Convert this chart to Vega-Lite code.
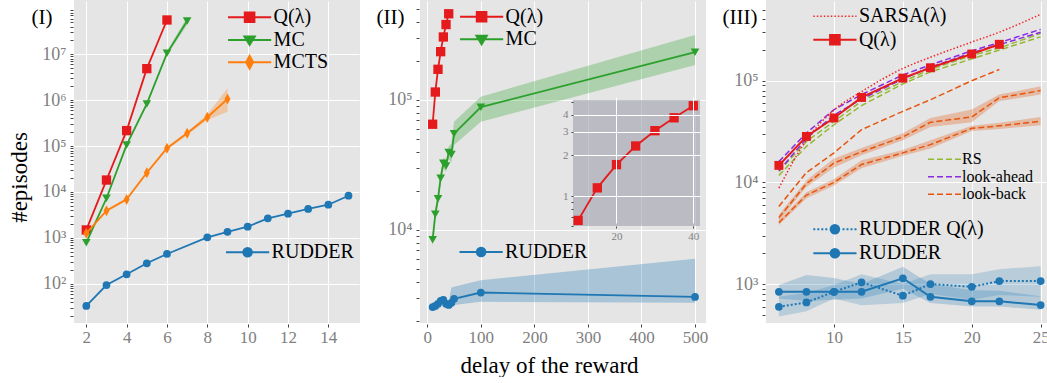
{
  "$schema": "https://vega.github.io/schema/vega-lite/v6.json",
  "padding": {"left": 8, "top": 0, "right": 0, "bottom": 0},
  "bounds": "flush",
  "spacing": 60,
  "config": {
    "font": "Liberation Serif",
    "view": {"fill": "#e5e5e5", "stroke": null},
    "axis": {"domain": false, "grid": true, "gridColor": "white", "gridWidth": 1, "tickColor": "#444", "tickSize": 3, "offset": 1, "labelColor": "#808080", "labelFont": "Liberation Serif", "labelFontSize": 17, "labelPadding": 2, "labelOverlap": false, "labelFlush": false, "titleFont": "Liberation Serif", "titleFontSize": 23, "titleFontWeight": "normal", "titleColor": "black"},
    "legend": {"orient": "none", "labelFont": "Liberation Serif", "labelFontSize": 20, "labelColor": "black", "padding": 0, "labelOffset": 14, "symbolStrokeWidth": 2, "symbolSize": 256, "symbolOpacity": 1}
  },
  "datasets": {
    "p1": [
      {"m": "Q(λ)", "x": 2, "y": 1490}, {"m": "Q(λ)", "x": 3, "y": 18200}, {"m": "Q(λ)", "x": 4, "y": 217000}, {"m": "Q(λ)", "x": 5, "y": 4860000}, {"m": "Q(λ)", "x": 6, "y": 55800000},
      {"m": "MC", "x": 2, "y": 785, "lo": 740, "hi": 830}, {"m": "MC", "x": 3, "y": 7300, "lo": 6900, "hi": 7700}, {"m": "MC", "x": 4, "y": 106000, "lo": 100000, "hi": 113000}, {"m": "MC", "x": 5, "y": 830000, "lo": 770000, "hi": 900000}, {"m": "MC", "x": 6, "y": 10500000, "lo": 9500000, "hi": 11800000}, {"m": "MC", "x": 7, "y": 53000000, "lo": 44000000, "hi": 64000000},
      {"m": "MCTS", "x": 2, "y": 1260, "lo": 1180, "hi": 1340}, {"m": "MCTS", "x": 3, "y": 3900, "lo": 3650, "hi": 4150}, {"m": "MCTS", "x": 4, "y": 6900, "lo": 6450, "hi": 7400}, {"m": "MCTS", "x": 5, "y": 26300, "lo": 24500, "hi": 28200}, {"m": "MCTS", "x": 6, "y": 89600, "lo": 83000, "hi": 97000}, {"m": "MCTS", "x": 7, "y": 190000, "lo": 175000, "hi": 206000}, {"m": "MCTS", "x": 8, "y": 424000, "lo": 370000, "hi": 490000}, {"m": "MCTS", "x": 9, "y": 1060000, "lo": 560000, "hi": 1820000},
      {"m": "RUDDER", "x": 2, "y": 33}, {"m": "RUDDER", "x": 3, "y": 94}, {"m": "RUDDER", "x": 4, "y": 161}, {"m": "RUDDER", "x": 5, "y": 280}, {"m": "RUDDER", "x": 6, "y": 446}, {"m": "RUDDER", "x": 8, "y": 1030}, {"m": "RUDDER", "x": 9, "y": 1360}, {"m": "RUDDER", "x": 10, "y": 1750}, {"m": "RUDDER", "x": 11, "y": 2670}, {"m": "RUDDER", "x": 12, "y": 3370}, {"m": "RUDDER", "x": 13, "y": 4260}, {"m": "RUDDER", "x": 14, "y": 5280}, {"m": "RUDDER", "x": 15, "y": 8300}
    ],
    "p2": [
      {"m": "Q(λ)", "x": 10, "y": 65000}, {"m": "Q(λ)", "x": 15, "y": 115000}, {"m": "Q(λ)", "x": 20, "y": 172000}, {"m": "Q(λ)", "x": 25, "y": 235000}, {"m": "Q(λ)", "x": 30, "y": 305000}, {"m": "Q(λ)", "x": 35, "y": 380000}, {"m": "Q(λ)", "x": 40, "y": 460000},
      {"m": "MC", "x": 10, "y": 8400, "lo": 7400, "hi": 9500}, {"m": "MC", "x": 15, "y": 13200, "lo": 12000, "hi": 14500}, {"m": "MC", "x": 20, "y": 17400, "lo": 15800, "hi": 19200}, {"m": "MC", "x": 25, "y": 25000, "lo": 22500, "hi": 27800}, {"m": "MC", "x": 30, "y": 32600, "lo": 29500, "hi": 36000}, {"m": "MC", "x": 35, "y": 31000, "lo": 28000, "hi": 34500}, {"m": "MC", "x": 40, "y": 39400, "lo": 35000, "hi": 44000}, {"m": "MC", "x": 45, "y": 38000, "lo": 33000, "hi": 46000}, {"m": "MC", "x": 50, "y": 55000, "lo": 45000, "hi": 68000}, {"m": "MC", "x": 100, "y": 88000, "lo": 68000, "hi": 106000}, {"m": "MC", "x": 500, "y": 233000, "lo": 186000, "hi": 316000},
      {"m": "RUDDER", "x": 10, "y": 2550, "lo": 2450, "hi": 2650}, {"m": "RUDDER", "x": 15, "y": 2600, "lo": 2480, "hi": 2720}, {"m": "RUDDER", "x": 20, "y": 2700, "lo": 2560, "hi": 2850}, {"m": "RUDDER", "x": 25, "y": 2850, "lo": 2680, "hi": 3050}, {"m": "RUDDER", "x": 30, "y": 2900, "lo": 2720, "hi": 3120}, {"m": "RUDDER", "x": 35, "y": 2700, "lo": 2560, "hi": 2900}, {"m": "RUDDER", "x": 40, "y": 2650, "lo": 2500, "hi": 2820}, {"m": "RUDDER", "x": 45, "y": 2750, "lo": 2550, "hi": 3600}, {"m": "RUDDER", "x": 50, "y": 2950, "lo": 2650, "hi": 3650}, {"m": "RUDDER", "x": 100, "y": 3300, "lo": 2800, "hi": 4100}, {"m": "RUDDER", "x": 500, "y": 3050, "lo": 2750, "hi": 6000}
    ],
    "p2i": [
      {"x": 10, "y": 0.66}, {"x": 15, "y": 1.15}, {"x": 20, "y": 1.71}, {"x": 25, "y": 2.35}, {"x": 30, "y": 3.05}, {"x": 35, "y": 3.8}, {"x": 40, "y": 4.67}
    ],
    "p3": [
      {"m": "SARSA(λ)", "g": "s", "x": 6, "y": 8800}, {"m": "SARSA(λ)", "g": "s", "x": 8, "y": 26000}, {"m": "SARSA(λ)", "g": "s", "x": 10, "y": 51500}, {"m": "SARSA(λ)", "g": "s", "x": 12, "y": 78000}, {"m": "SARSA(λ)", "g": "s", "x": 15, "y": 132000}, {"m": "SARSA(λ)", "g": "s", "x": 17, "y": 170000}, {"m": "SARSA(λ)", "g": "s", "x": 20, "y": 240000}, {"m": "SARSA(λ)", "g": "s", "x": 22, "y": 300000}, {"m": "SARSA(λ)", "g": "s", "x": 25, "y": 450000},
      {"m": "Q(λ)", "g": "q", "x": 6, "y": 14700}, {"m": "Q(λ)", "g": "q", "x": 8, "y": 28300}, {"m": "Q(λ)", "g": "q", "x": 10, "y": 43000}, {"m": "Q(λ)", "g": "q", "x": 12, "y": 68500}, {"m": "Q(λ)", "g": "q", "x": 15, "y": 106000}, {"m": "Q(λ)", "g": "q", "x": 17, "y": 134000}, {"m": "Q(λ)", "g": "q", "x": 20, "y": 183000}, {"m": "Q(λ)", "g": "q", "x": 22, "y": 228000},
      {"m": "RS", "g": "a", "x": 6, "y": 12800}, {"m": "RS", "g": "a", "x": 8, "y": 25300}, {"m": "RS", "g": "a", "x": 10, "y": 39700}, {"m": "RS", "g": "a", "x": 12, "y": 63000}, {"m": "RS", "g": "a", "x": 15, "y": 98000}, {"m": "RS", "g": "a", "x": 17, "y": 129000}, {"m": "RS", "g": "a", "x": 20, "y": 177000}, {"m": "RS", "g": "a", "x": 22, "y": 210000}, {"m": "RS", "g": "a", "x": 25, "y": 292000},
      {"m": "RS", "g": "b", "x": 6, "y": 11700}, {"m": "RS", "g": "b", "x": 8, "y": 22600}, {"m": "RS", "g": "b", "x": 10, "y": 36900}, {"m": "RS", "g": "b", "x": 12, "y": 57000}, {"m": "RS", "g": "b", "x": 15, "y": 93000}, {"m": "RS", "g": "b", "x": 17, "y": 122000}, {"m": "RS", "g": "b", "x": 20, "y": 164000}, {"m": "RS", "g": "b", "x": 22, "y": 200000}, {"m": "RS", "g": "b", "x": 25, "y": 270000},
      {"m": "look-ahead", "g": "a", "x": 6, "y": 16000}, {"m": "look-ahead", "g": "a", "x": 8, "y": 30600}, {"m": "look-ahead", "g": "a", "x": 10, "y": 52000}, {"m": "look-ahead", "g": "a", "x": 12, "y": 73000}, {"m": "look-ahead", "g": "a", "x": 15, "y": 114000}, {"m": "look-ahead", "g": "a", "x": 17, "y": 143000}, {"m": "look-ahead", "g": "a", "x": 20, "y": 197000}, {"m": "look-ahead", "g": "a", "x": 22, "y": 237000}, {"m": "look-ahead", "g": "a", "x": 25, "y": 320000},
      {"m": "look-ahead", "g": "b", "x": 6, "y": 13000}, {"m": "look-ahead", "g": "b", "x": 8, "y": 27000}, {"m": "look-ahead", "g": "b", "x": 10, "y": 46000}, {"m": "look-ahead", "g": "b", "x": 12, "y": 66000}, {"m": "look-ahead", "g": "b", "x": 15, "y": 104000}, {"m": "look-ahead", "g": "b", "x": 17, "y": 136000}, {"m": "look-ahead", "g": "b", "x": 20, "y": 188000}, {"m": "look-ahead", "g": "b", "x": 22, "y": 226000}, {"m": "look-ahead", "g": "b", "x": 25, "y": 300000},
      {"m": "look-back", "g": "a", "x": 6, "y": 5800}, {"m": "look-back", "g": "a", "x": 8, "y": 12500}, {"m": "look-back", "g": "a", "x": 10, "y": 19500}, {"m": "look-back", "g": "a", "x": 12, "y": 33000}, {"m": "look-back", "g": "a", "x": 15, "y": 50000}, {"m": "look-back", "g": "a", "x": 17, "y": 65000}, {"m": "look-back", "g": "a", "x": 20, "y": 100000}, {"m": "look-back", "g": "a", "x": 22, "y": 129000},
      {"m": "look-back", "g": "b", "x": 6, "y": 4500, "lo": 4200, "hi": 4800}, {"m": "look-back", "g": "b", "x": 8, "y": 9700, "lo": 9000, "hi": 10500}, {"m": "look-back", "g": "b", "x": 10, "y": 15500, "lo": 14000, "hi": 17200}, {"m": "look-back", "g": "b", "x": 12, "y": 20000, "lo": 18500, "hi": 21800}, {"m": "look-back", "g": "b", "x": 15, "y": 28000, "lo": 26000, "hi": 30500}, {"m": "look-back", "g": "b", "x": 17, "y": 39000, "lo": 35000, "hi": 43000}, {"m": "look-back", "g": "b", "x": 20, "y": 44000, "lo": 39000, "hi": 52000}, {"m": "look-back", "g": "b", "x": 22, "y": 68000, "lo": 63000, "hi": 73000}, {"m": "look-back", "g": "b", "x": 25, "y": 80000, "lo": 73000, "hi": 88000},
      {"m": "look-back", "g": "c", "x": 6, "y": 4000, "lo": 3800, "hi": 4250}, {"m": "look-back", "g": "c", "x": 8, "y": 7500, "lo": 7000, "hi": 8000}, {"m": "look-back", "g": "c", "x": 10, "y": 10000, "lo": 9300, "hi": 10800}, {"m": "look-back", "g": "c", "x": 12, "y": 15000, "lo": 13800, "hi": 16500}, {"m": "look-back", "g": "c", "x": 15, "y": 19500, "lo": 18300, "hi": 20800}, {"m": "look-back", "g": "c", "x": 17, "y": 23500, "lo": 21500, "hi": 26000}, {"m": "look-back", "g": "c", "x": 20, "y": 34000, "lo": 32000, "hi": 36000}, {"m": "look-back", "g": "c", "x": 22, "y": 36000, "lo": 33500, "hi": 38500}, {"m": "look-back", "g": "c", "x": 25, "y": 40000, "lo": 36500, "hi": 44000},
      {"m": "RUDDER Q(λ)", "g": "rq", "x": 6, "y": 598, "lo": 480, "hi": 750}, {"m": "RUDDER Q(λ)", "g": "rq", "x": 8, "y": 660, "lo": 540, "hi": 820}, {"m": "RUDDER Q(λ)", "g": "rq", "x": 10, "y": 840, "lo": 720, "hi": 980}, {"m": "RUDDER Q(λ)", "g": "rq", "x": 12, "y": 1040, "lo": 620, "hi": 1250}, {"m": "RUDDER Q(λ)", "g": "rq", "x": 15, "y": 768, "lo": 650, "hi": 1000}, {"m": "RUDDER Q(λ)", "g": "rq", "x": 17, "y": 1000, "lo": 800, "hi": 1250}, {"m": "RUDDER Q(λ)", "g": "rq", "x": 20, "y": 940, "lo": 700, "hi": 1250}, {"m": "RUDDER Q(λ)", "g": "rq", "x": 22, "y": 1070, "lo": 780, "hi": 1400}, {"m": "RUDDER Q(λ)", "g": "rq", "x": 25, "y": 1070, "lo": 750, "hi": 1500},
      {"m": "RUDDER", "g": "r", "x": 6, "y": 840, "lo": 720, "hi": 980}, {"m": "RUDDER", "g": "r", "x": 8, "y": 840, "lo": 680, "hi": 1230}, {"m": "RUDDER", "g": "r", "x": 10, "y": 840, "lo": 700, "hi": 1150}, {"m": "RUDDER", "g": "r", "x": 12, "y": 840, "lo": 720, "hi": 1000}, {"m": "RUDDER", "g": "r", "x": 15, "y": 1140, "lo": 900, "hi": 1480}, {"m": "RUDDER", "g": "r", "x": 17, "y": 750, "lo": 650, "hi": 1000}, {"m": "RUDDER", "g": "r", "x": 20, "y": 676, "lo": 600, "hi": 870}, {"m": "RUDDER", "g": "r", "x": 22, "y": 676, "lo": 600, "hi": 860}, {"m": "RUDDER", "g": "r", "x": 25, "y": 622, "lo": 560, "hi": 760}
    ]
  },
  "hconcat": [
    {
      "width": 286, "height": 323,
      "data": {"name": "p1"},
      "encoding": {
        "x": {"field": "x", "type": "quantitative", "scale": {"domain": [1.39, 15.57], "nice": false, "zero": false}, "axis": {"values": [2, 4, 6, 8, 10, 12, 14], "title": "(I)", "titleX": -43, "titleY": -301, "titleAlign": "left", "titleBaseline": "alphabetic", "titleAngle": 0, "titleFontSize": 21}},
        "y": {"field": "y", "type": "quantitative", "scale": {"type": "log", "domain": [14, 152000000], "nice": false},
          "axis": {"values": [20, 30, 40, 50, 60, 70, 80, 90, 100, 200, 300, 400, 500, 600, 700, 800, 900, 1000, 2000, 3000, 4000, 5000, 6000, 7000, 8000, 9000, 10000, 20000, 30000, 40000, 50000, 60000, 70000, 80000, 90000, 100000, 200000, 300000, 400000, 500000, 600000, 700000, 800000, 900000, 1000000, 2000000, 3000000, 4000000, 5000000, 6000000, 7000000, 8000000, 9000000, 10000000, 20000000, 30000000, 40000000, 50000000, 60000000, 70000000, 80000000, 90000000],
            "labelExpr": "abs(log(datum.value)/LN10 - round(log(datum.value)/LN10)) < 0.001 ? '10' + substring('⁰¹²³⁴⁵⁶⁷⁸⁹', round(log(datum.value)/LN10), round(log(datum.value)/LN10) + 1) : ''",
            "gridOpacity": {"condition": {"test": "abs(log(datum.value)/LN10 - round(log(datum.value)/LN10)) < 0.001", "value": 1}, "value": 0},
            "labelFontSize": 18, "labelPadding": 4, "title": "#episodes", "titleY": 177, "titlePadding": 10}}
      },
      "resolve": {"scale": {"color": "independent"}},
      "layer": [
        {"transform": [{"filter": "datum.m == 'Q(λ)'"}],
          "encoding": {"color": {"field": "m", "type": "nominal", "scale": {"domain": ["Q(λ)"], "range": ["#e41a1c"]}, "legend": {"title": null, "legendX": 165.6, "legendY": 7.3, "symbolType": "M-2.7,0H2.7M-0.6,-0.6H0.6V0.6H-0.6Z", "symbolFillColor": "#e41a1c", "symbolStrokeColor": "#e41a1c"}}},
          "layer": [
            {"mark": {"type": "line", "strokeWidth": 1.8}},
            {"mark": {"type": "point", "shape": "square", "filled": true, "size": 87, "opacity": 1}}
          ]},
        {"transform": [{"filter": "datum.m == 'MC'"}],
          "encoding": {"color": {"field": "m", "type": "nominal", "scale": {"domain": ["MC"], "range": ["#2ca02c"]}, "legend": {"title": null, "legendX": 165.6, "legendY": 30, "symbolType": "M-2.7,0H2.7M-0.65,-0.44H0.65L0,0.62Z", "symbolFillColor": "#2ca02c", "symbolStrokeColor": "#2ca02c"}}},
          "layer": [
            {"mark": {"type": "area", "fillOpacity": 0.3}, "encoding": {"y": {"field": "lo", "type": "quantitative", "scale": {"type": "log", "domain": [14, 152000000], "nice": false},
              "axis": {"values": [20, 30, 40, 50, 60, 70, 80, 90, 100, 200, 300, 400, 500, 600, 700, 800, 900, 1000, 2000, 3000, 4000, 5000, 6000, 7000, 8000, 9000, 10000, 20000, 30000, 40000, 50000, 60000, 70000, 80000, 90000, 100000, 200000, 300000, 400000, 500000, 600000, 700000, 800000, 900000, 1000000, 2000000, 3000000, 4000000, 5000000, 6000000, 7000000, 8000000, 9000000, 10000000, 20000000, 30000000, 40000000, 50000000, 60000000, 70000000, 80000000, 90000000],
                "labelExpr": "abs(log(datum.value)/LN10 - round(log(datum.value)/LN10)) < 0.001 ? '10' + substring('⁰¹²³⁴⁵⁶⁷⁸⁹', round(log(datum.value)/LN10), round(log(datum.value)/LN10) + 1) : ''",
                "gridOpacity": {"condition": {"test": "abs(log(datum.value)/LN10 - round(log(datum.value)/LN10)) < 0.001", "value": 1}, "value": 0},
                "labelFontSize": 18, "labelPadding": 4, "title": "#episodes", "titleY": 177, "titlePadding": 10}}, "y2": {"field": "hi"}}},
            {"mark": {"type": "line", "strokeWidth": 1.8}},
            {"mark": {"type": "point", "shape": "triangle-down", "filled": true, "size": 75, "opacity": 1}}
          ]},
        {"transform": [{"filter": "datum.m == 'MCTS'"}],
          "encoding": {"color": {"field": "m", "type": "nominal", "scale": {"domain": ["MCTS"], "range": ["#ff7f0e"]}, "legend": {"title": null, "legendX": 165.6, "legendY": 52.3, "symbolType": "M-2.7,0H2.7M0,-0.81L0.44,0L0,0.81L-0.44,0Z", "symbolFillColor": "#ff7f0e", "symbolStrokeColor": "#ff7f0e"}}},
          "layer": [
            {"mark": {"type": "area", "fillOpacity": 0.3}, "encoding": {"y": {"field": "lo", "type": "quantitative", "scale": {"type": "log", "domain": [14, 152000000], "nice": false},
              "axis": {"values": [20, 30, 40, 50, 60, 70, 80, 90, 100, 200, 300, 400, 500, 600, 700, 800, 900, 1000, 2000, 3000, 4000, 5000, 6000, 7000, 8000, 9000, 10000, 20000, 30000, 40000, 50000, 60000, 70000, 80000, 90000, 100000, 200000, 300000, 400000, 500000, 600000, 700000, 800000, 900000, 1000000, 2000000, 3000000, 4000000, 5000000, 6000000, 7000000, 8000000, 9000000, 10000000, 20000000, 30000000, 40000000, 50000000, 60000000, 70000000, 80000000, 90000000],
                "labelExpr": "abs(log(datum.value)/LN10 - round(log(datum.value)/LN10)) < 0.001 ? '10' + substring('⁰¹²³⁴⁵⁶⁷⁸⁹', round(log(datum.value)/LN10), round(log(datum.value)/LN10) + 1) : ''",
                "gridOpacity": {"condition": {"test": "abs(log(datum.value)/LN10 - round(log(datum.value)/LN10)) < 0.001", "value": 1}, "value": 0},
                "labelFontSize": 18, "labelPadding": 4, "title": "#episodes", "titleY": 177, "titlePadding": 10}}, "y2": {"field": "hi"}}},
            {"mark": {"type": "line", "strokeWidth": 1.8}},
            {"mark": {"type": "point", "shape": "M0,-1L0.55,0L0,1L-0.55,0Z", "filled": true, "size": 121, "opacity": 1}}
          ]},
        {"transform": [{"filter": "datum.m == 'RUDDER'"}],
          "encoding": {"color": {"field": "m", "type": "nominal", "scale": {"domain": ["RUDDER"], "range": ["#1f77b4"]}, "legend": {"title": null, "legendX": 163.6, "legendY": 242.3, "symbolType": "M-2.7,0H2.7M-0.54,0A0.54,0.54,0,1,0,0.54,0A0.54,0.54,0,1,0,-0.54,0Z", "symbolFillColor": "#1f77b4", "symbolStrokeColor": "#1f77b4"}}},
          "layer": [
            {"mark": {"type": "line", "strokeWidth": 1.8}},
            {"mark": {"type": "point", "shape": "circle", "filled": true, "size": 60, "opacity": 1}}
          ]}
      ]
    },
    {
      "width": 286, "height": 323,
      "resolve": {"scale": {"x": "independent", "y": "independent"}, "axis": {"x": "independent", "y": "independent"}},
      "layer": [
        {
          "data": {"name": "p2"},
          "encoding": {
            "x": {"field": "x", "type": "quantitative", "scale": {"domain": [-13.6, 520.5], "nice": false, "zero": false}, "axis": {"values": [0, 100, 200, 300, 400, 500], "title": "delay of the reward", "titleX": 129, "titlePadding": 9, "orient": "bottom"}},
            "y": {"field": "y", "type": "quantitative", "scale": {"type": "log", "domain": [1923, 587000], "nice": false},
              "axis": {"values": [2000, 3000, 4000, 5000, 6000, 7000, 8000, 9000, 10000, 20000, 30000, 40000, 50000, 60000, 70000, 80000, 90000, 100000, 200000, 300000, 400000, 500000],
                "labelExpr": "abs(log(datum.value)/LN10 - round(log(datum.value)/LN10)) < 0.001 ? '10' + substring('⁰¹²³⁴⁵⁶⁷⁸⁹', round(log(datum.value)/LN10), round(log(datum.value)/LN10) + 1) : ''",
                "gridOpacity": {"condition": {"test": "abs(log(datum.value)/LN10 - round(log(datum.value)/LN10)) < 0.001", "value": 1}, "value": 0},
                "labelFontSize": 18, "labelPadding": 4, "orient": "left", "title": "(II)", "titleX": -43, "titleY": 23, "titleAlign": "left", "titleBaseline": "alphabetic", "titleAngle": 0, "titleFontSize": 21}}
          },
          "resolve": {"scale": {"color": "independent"}},
          "layer": [
            {"transform": [{"filter": "datum.m == 'Q(λ)'"}],
              "encoding": {"color": {"field": "m", "type": "nominal", "scale": {"domain": ["Q(λ)"], "range": ["#e41a1c"]}, "legend": {"title": null, "legendX": 51.6, "legendY": 6.7, "symbolType": "M-2.7,0H2.7M-0.6,-0.6H0.6V0.6H-0.6Z", "symbolFillColor": "#e41a1c", "symbolStrokeColor": "#e41a1c"}}},
              "layer": [
                {"mark": {"type": "line", "strokeWidth": 1.8}},
                {"mark": {"type": "point", "shape": "square", "filled": true, "size": 87, "opacity": 1}}
              ]},
            {"transform": [{"filter": "datum.m == 'MC'"}],
              "encoding": {"color": {"field": "m", "type": "nominal", "scale": {"domain": ["MC"], "range": ["#2ca02c"]}, "legend": {"title": null, "legendX": 51.6, "legendY": 29.3, "symbolType": "M-2.7,0H2.7M-0.65,-0.44H0.65L0,0.62Z", "symbolFillColor": "#2ca02c", "symbolStrokeColor": "#2ca02c"}}},
              "layer": [
                {"mark": {"type": "area", "fillOpacity": 0.3}, "encoding": {"y": {"field": "lo", "type": "quantitative", "scale": {"type": "log", "domain": [1923, 587000], "nice": false},
                  "axis": {"values": [2000, 3000, 4000, 5000, 6000, 7000, 8000, 9000, 10000, 20000, 30000, 40000, 50000, 60000, 70000, 80000, 90000, 100000, 200000, 300000, 400000, 500000],
                    "labelExpr": "abs(log(datum.value)/LN10 - round(log(datum.value)/LN10)) < 0.001 ? '10' + substring('⁰¹²³⁴⁵⁶⁷⁸⁹', round(log(datum.value)/LN10), round(log(datum.value)/LN10) + 1) : ''",
                    "gridOpacity": {"condition": {"test": "abs(log(datum.value)/LN10 - round(log(datum.value)/LN10)) < 0.001", "value": 1}, "value": 0},
                    "labelFontSize": 18, "labelPadding": 4, "orient": "left", "title": "(II)", "titleX": -43, "titleY": 23, "titleAlign": "left", "titleBaseline": "alphabetic", "titleAngle": 0, "titleFontSize": 21}}, "y2": {"field": "hi"}}},
                {"mark": {"type": "line", "strokeWidth": 1.8}},
                {"mark": {"type": "point", "shape": "triangle-down", "filled": true, "size": 75, "opacity": 1}}
              ]},
            {"transform": [{"filter": "datum.m == 'RUDDER'"}],
              "encoding": {"color": {"field": "m", "type": "nominal", "scale": {"domain": ["RUDDER"], "range": ["#1f77b4"]}, "legend": {"title": null, "legendX": 51.1, "legendY": 242, "symbolType": "M-2.7,0H2.7M-0.54,0A0.54,0.54,0,1,0,0.54,0A0.54,0.54,0,1,0,-0.54,0Z", "symbolFillColor": "#1f77b4", "symbolStrokeColor": "#1f77b4"}}},
              "layer": [
                {"mark": {"type": "area", "fillOpacity": 0.3}, "encoding": {"y": {"field": "lo", "type": "quantitative", "scale": {"type": "log", "domain": [1923, 587000], "nice": false},
                  "axis": {"values": [2000, 3000, 4000, 5000, 6000, 7000, 8000, 9000, 10000, 20000, 30000, 40000, 50000, 60000, 70000, 80000, 90000, 100000, 200000, 300000, 400000, 500000],
                    "labelExpr": "abs(log(datum.value)/LN10 - round(log(datum.value)/LN10)) < 0.001 ? '10' + substring('⁰¹²³⁴⁵⁶⁷⁸⁹', round(log(datum.value)/LN10), round(log(datum.value)/LN10) + 1) : ''",
                    "gridOpacity": {"condition": {"test": "abs(log(datum.value)/LN10 - round(log(datum.value)/LN10)) < 0.001", "value": 1}, "value": 0},
                    "labelFontSize": 18, "labelPadding": 4, "orient": "left", "title": "(II)", "titleX": -43, "titleY": 23, "titleAlign": "left", "titleBaseline": "alphabetic", "titleAngle": 0, "titleFontSize": 21}}, "y2": {"field": "hi"}}},
                {"mark": {"type": "line", "strokeWidth": 1.8}},
                {"mark": {"type": "point", "shape": "circle", "filled": true, "size": 60, "opacity": 1}}
              ]}
          ]
        },
        {
          "layer": [
            {"data": {"values": [{}]},
              "mark": {"type": "rect", "fill": "#9c9fac", "opacity": 0.6},
              "encoding": {
                "x": {"datum": 8.67, "type": "quantitative", "scale": {"domain": [8.67, 41.75], "range": [153, 280], "nice": false, "zero": false},
                  "axis": {"orient": "bottom", "offset": -97, "values": [20, 40], "grid": true, "labelFontSize": 11, "tickSize": 2, "labelPadding": 2, "title": null, "zindex": 1}},
                "x2": {"datum": 41.75},
                "y": {"datum": 0.6, "type": "quantitative", "scale": {"type": "log", "domain": [0.6, 5.15], "range": [226, 100], "nice": false},
                  "axis": {"orient": "left", "offset": -153, "values": [0.6, 0.7, 0.8, 0.9, 1, 2, 3, 4, 5], "grid": true, "labelExpr": "(datum.value == 1 || datum.value == 2 || datum.value == 3 || datum.value == 4) ? datum.label : ''",
                    "gridOpacity": {"condition": {"test": "datum.value == 1 || datum.value == 2 || datum.value == 3 || datum.value == 4", "value": 1}, "value": 0},
                    "labelFontSize": 11, "tickSize": 2, "labelPadding": 3, "title": null, "zindex": 1}},
                "y2": {"datum": 5.15}
              }},
            {"data": {"name": "p2i"},
              "mark": {"type": "line", "color": "#e41a1c", "strokeWidth": 1.8},
              "encoding": {
                "x": {"field": "x", "type": "quantitative", "scale": {"domain": [8.67, 41.75], "range": [153, 280], "nice": false, "zero": false},
                  "axis": {"orient": "bottom", "offset": -97, "values": [20, 40], "grid": true, "labelFontSize": 11, "tickSize": 2, "labelPadding": 2, "title": null, "zindex": 1}},
                "y": {"field": "y", "type": "quantitative", "scale": {"type": "log", "domain": [0.6, 5.15], "range": [226, 100], "nice": false},
                  "axis": {"orient": "left", "offset": -153, "values": [0.6, 0.7, 0.8, 0.9, 1, 2, 3, 4, 5], "grid": true, "labelExpr": "(datum.value == 1 || datum.value == 2 || datum.value == 3 || datum.value == 4) ? datum.label : ''",
                    "gridOpacity": {"condition": {"test": "datum.value == 1 || datum.value == 2 || datum.value == 3 || datum.value == 4", "value": 1}, "value": 0},
                    "labelFontSize": 11, "tickSize": 2, "labelPadding": 3, "title": null, "zindex": 1}}
              }},
            {"data": {"name": "p2i"},
              "mark": {"type": "point", "shape": "square", "filled": true, "size": 87, "opacity": 1, "color": "#e41a1c"},
              "encoding": {
                "x": {"field": "x", "type": "quantitative", "scale": {"domain": [8.67, 41.75], "range": [153, 280], "nice": false, "zero": false},
                  "axis": {"orient": "bottom", "offset": -97, "values": [20, 40], "grid": true, "labelFontSize": 11, "tickSize": 2, "labelPadding": 2, "title": null, "zindex": 1}},
                "y": {"field": "y", "type": "quantitative", "scale": {"type": "log", "domain": [0.6, 5.15], "range": [226, 100], "nice": false},
                  "axis": {"orient": "left", "offset": -153, "values": [0.6, 0.7, 0.8, 0.9, 1, 2, 3, 4, 5], "grid": true, "labelExpr": "(datum.value == 1 || datum.value == 2 || datum.value == 3 || datum.value == 4) ? datum.label : ''",
                    "gridOpacity": {"condition": {"test": "datum.value == 1 || datum.value == 2 || datum.value == 3 || datum.value == 4", "value": 1}, "value": 0},
                    "labelFontSize": 11, "tickSize": 2, "labelPadding": 3, "title": null, "zindex": 1}}
              }}
          ]
        }
      ]
    },
    {
      "width": 281, "height": 323,
      "data": {"name": "p3"},
      "encoding": {
        "x": {"field": "x", "type": "quantitative", "scale": {"domain": [5.065, 25.46], "nice": false, "zero": false}, "axis": {"values": [10, 15, 20, 25], "title": null}},
        "y": {"field": "y", "type": "quantitative", "scale": {"type": "log", "domain": [414, 622000], "nice": false},
          "axis": {"values": [500, 600, 700, 800, 900, 1000, 2000, 3000, 4000, 5000, 6000, 7000, 8000, 9000, 10000, 20000, 30000, 40000, 50000, 60000, 70000, 80000, 90000, 100000, 200000, 300000, 400000, 500000],
            "labelExpr": "abs(log(datum.value)/LN10 - round(log(datum.value)/LN10)) < 0.001 ? '10' + substring('⁰¹²³⁴⁵⁶⁷⁸⁹', round(log(datum.value)/LN10), round(log(datum.value)/LN10) + 1) : ''",
            "gridOpacity": {"condition": {"test": "abs(log(datum.value)/LN10 - round(log(datum.value)/LN10)) < 0.001", "value": 1}, "value": 0},
            "labelFontSize": 18, "labelPadding": 4, "title": "(III)", "titleX": -43, "titleY": 23, "titleAlign": "left", "titleBaseline": "alphabetic", "titleAngle": 0, "titleFontSize": 21}}
      },
      "resolve": {"scale": {"color": "independent"}},
      "layer": [
        {"transform": [{"filter": "datum.m == 'look-back'"}],
          "encoding": {"color": {"field": "m", "type": "nominal", "scale": {"domain": ["look-back"], "range": ["#e6550d"]}, "legend": {"title": null, "legendX": 169.5, "legendY": 185.3, "symbolType": "M-2.06,0H2.06", "symbolStrokeWidth": 1.6, "symbolDash": [6, 3], "labelFontSize": 16, "labelOffset": 8.5, "symbolFillColor": "#e6550d", "symbolStrokeColor": "#e6550d"}}},
          "layer": [
            {"transform": [{"filter": "isValid(datum.lo)"}], "mark": {"type": "area", "fillOpacity": 0.3}, "encoding": {"detail": {"field": "g"}, "y": {"field": "lo", "type": "quantitative", "scale": {"type": "log", "domain": [414, 622000], "nice": false},
              "axis": {"values": [500, 600, 700, 800, 900, 1000, 2000, 3000, 4000, 5000, 6000, 7000, 8000, 9000, 10000, 20000, 30000, 40000, 50000, 60000, 70000, 80000, 90000, 100000, 200000, 300000, 400000, 500000],
                "labelExpr": "abs(log(datum.value)/LN10 - round(log(datum.value)/LN10)) < 0.001 ? '10' + substring('⁰¹²³⁴⁵⁶⁷⁸⁹', round(log(datum.value)/LN10), round(log(datum.value)/LN10) + 1) : ''",
                "gridOpacity": {"condition": {"test": "abs(log(datum.value)/LN10 - round(log(datum.value)/LN10)) < 0.001", "value": 1}, "value": 0},
                "labelFontSize": 18, "labelPadding": 4, "title": "(III)", "titleX": -43, "titleY": 23, "titleAlign": "left", "titleBaseline": "alphabetic", "titleAngle": 0, "titleFontSize": 21}}, "y2": {"field": "hi"}}},
            {"mark": {"type": "line", "strokeWidth": 1.5, "strokeDash": [6, 3]}, "encoding": {"detail": {"field": "g"}}}
          ]},
        {"transform": [{"filter": "datum.m == 'RS'"}],
          "encoding": {"color": {"field": "m", "type": "nominal", "scale": {"domain": ["RS"], "range": ["#94b833"]}, "legend": {"title": null, "legendX": 169.5, "legendY": 150.3, "symbolType": "M-2.06,0H2.06", "symbolStrokeWidth": 1.6, "symbolDash": [6, 3], "labelFontSize": 16, "labelOffset": 8.5, "symbolFillColor": "#94b833", "symbolStrokeColor": "#94b833"}}},
          "layer": [
            {"mark": {"type": "line", "strokeWidth": 1.5, "strokeDash": [6, 3]}, "encoding": {"detail": {"field": "g"}}}
          ]},
        {"transform": [{"filter": "datum.m == 'look-ahead'"}],
          "encoding": {"color": {"field": "m", "type": "nominal", "scale": {"domain": ["look-ahead"], "range": ["#8a2be2"]}, "legend": {"title": null, "legendX": 169.5, "legendY": 167.7, "symbolType": "M-2.06,0H2.06", "symbolStrokeWidth": 1.6, "symbolDash": [6, 3], "labelFontSize": 16, "labelOffset": 8.5, "symbolFillColor": "#8a2be2", "symbolStrokeColor": "#8a2be2"}}},
          "layer": [
            {"mark": {"type": "line", "strokeWidth": 1.5, "strokeDash": [6, 3]}, "encoding": {"detail": {"field": "g"}}}
          ]},
        {"transform": [{"filter": "datum.m == 'SARSA(λ)'"}],
          "encoding": {"color": {"field": "m", "type": "nominal", "scale": {"domain": ["SARSA(λ)"], "range": ["#f0272b"]}, "legend": {"title": null, "legendX": 58.9, "legendY": 6.3, "symbolType": "M-2.7,0H2.7", "symbolStrokeWidth": 1.5, "symbolDash": [1.5, 2], "symbolFillColor": "#f0272b", "symbolStrokeColor": "#f0272b"}}},
          "layer": [
            {"mark": {"type": "line", "strokeWidth": 1.5, "strokeDash": [1.5, 2], "interpolate": "monotone"}}
          ]},
        {"transform": [{"filter": "datum.m == 'Q(λ)'"}],
          "encoding": {"color": {"field": "m", "type": "nominal", "scale": {"domain": ["Q(λ)"], "range": ["#e41a1c"]}, "legend": {"title": null, "legendX": 58.9, "legendY": 29.7, "symbolType": "M-2.7,0H2.7M-0.6,-0.6H0.6V0.6H-0.6Z", "symbolFillColor": "#e41a1c", "symbolStrokeColor": "#e41a1c"}}},
          "layer": [
            {"mark": {"type": "line", "strokeWidth": 2}},
            {"mark": {"type": "point", "shape": "square", "filled": true, "size": 80, "opacity": 1}}
          ]},
        {"transform": [{"filter": "datum.m == 'RUDDER Q(λ)'"}],
          "encoding": {"color": {"field": "m", "type": "nominal", "scale": {"domain": ["RUDDER Q(λ)"], "range": ["#1f77b4"]}, "legend": {"title": null, "legendX": 58.9, "legendY": 219.3, "symbolType": "M-2.7,0H-2.45M-2.2,0H-1.95M-1.7,0H-1.45M-1.2,0H-0.95M0.95,0H1.2M1.45,0H1.7M1.95,0H2.2M2.45,0H2.7M-0.54,0A0.54,0.54,0,1,0,0.54,0A0.54,0.54,0,1,0,-0.54,0Z", "symbolFillColor": "#1f77b4", "symbolStrokeColor": "#1f77b4"}}},
          "layer": [
            {"mark": {"type": "area", "fillOpacity": 0.22}, "encoding": {"y": {"field": "lo", "type": "quantitative", "scale": {"type": "log", "domain": [414, 622000], "nice": false},
              "axis": {"values": [500, 600, 700, 800, 900, 1000, 2000, 3000, 4000, 5000, 6000, 7000, 8000, 9000, 10000, 20000, 30000, 40000, 50000, 60000, 70000, 80000, 90000, 100000, 200000, 300000, 400000, 500000],
                "labelExpr": "abs(log(datum.value)/LN10 - round(log(datum.value)/LN10)) < 0.001 ? '10' + substring('⁰¹²³⁴⁵⁶⁷⁸⁹', round(log(datum.value)/LN10), round(log(datum.value)/LN10) + 1) : ''",
                "gridOpacity": {"condition": {"test": "abs(log(datum.value)/LN10 - round(log(datum.value)/LN10)) < 0.001", "value": 1}, "value": 0},
                "labelFontSize": 18, "labelPadding": 4, "title": "(III)", "titleX": -43, "titleY": 23, "titleAlign": "left", "titleBaseline": "alphabetic", "titleAngle": 0, "titleFontSize": 21}}, "y2": {"field": "hi"}}},
            {"mark": {"type": "line", "strokeWidth": 2, "strokeDash": [2, 2]}},
            {"mark": {"type": "point", "shape": "circle", "filled": true, "size": 60, "opacity": 1}}
          ]},
        {"transform": [{"filter": "datum.m == 'RUDDER'"}],
          "encoding": {"color": {"field": "m", "type": "nominal", "scale": {"domain": ["RUDDER"], "range": ["#1f77b4"]}, "legend": {"title": null, "legendX": 58.9, "legendY": 243.3, "symbolType": "M-2.7,0H2.7M-0.54,0A0.54,0.54,0,1,0,0.54,0A0.54,0.54,0,1,0,-0.54,0Z", "symbolFillColor": "#1f77b4", "symbolStrokeColor": "#1f77b4"}}},
          "layer": [
            {"mark": {"type": "area", "fillOpacity": 0.25}, "encoding": {"y": {"field": "lo", "type": "quantitative", "scale": {"type": "log", "domain": [414, 622000], "nice": false},
              "axis": {"values": [500, 600, 700, 800, 900, 1000, 2000, 3000, 4000, 5000, 6000, 7000, 8000, 9000, 10000, 20000, 30000, 40000, 50000, 60000, 70000, 80000, 90000, 100000, 200000, 300000, 400000, 500000],
                "labelExpr": "abs(log(datum.value)/LN10 - round(log(datum.value)/LN10)) < 0.001 ? '10' + substring('⁰¹²³⁴⁵⁶⁷⁸⁹', round(log(datum.value)/LN10), round(log(datum.value)/LN10) + 1) : ''",
                "gridOpacity": {"condition": {"test": "abs(log(datum.value)/LN10 - round(log(datum.value)/LN10)) < 0.001", "value": 1}, "value": 0},
                "labelFontSize": 18, "labelPadding": 4, "title": "(III)", "titleX": -43, "titleY": 23, "titleAlign": "left", "titleBaseline": "alphabetic", "titleAngle": 0, "titleFontSize": 21}}, "y2": {"field": "hi"}}},
            {"mark": {"type": "line", "strokeWidth": 2}},
            {"mark": {"type": "point", "shape": "circle", "filled": true, "size": 60, "opacity": 1}}
          ]}
      ]
    }
  ]
}
